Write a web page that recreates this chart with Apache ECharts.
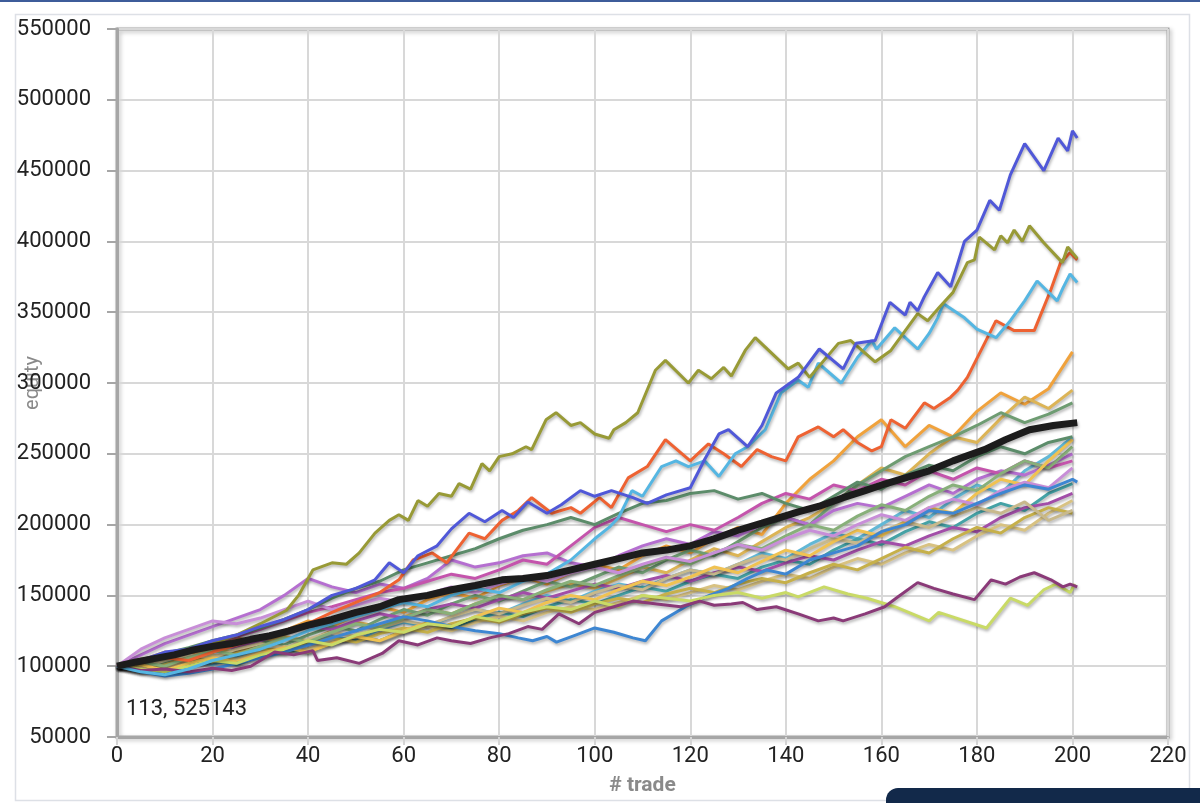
<!DOCTYPE html>
<html>
<head>
<meta charset="utf-8">
<script src="https://cdn.jsdelivr.net/npm/echarts@6/dist/echarts.min.js"></script>
<style>
  html, body { margin: 0; padding: 0; background: #fff; }
  #equity-chart { width: 1200px; height: 803px; }
</style>
</head>
<body>
<div id="equity-chart"></div>
<script>
// equity values are in thousands
var TRADES = [0,5,10,15,20,25,30,35,40,45,50,55,60,65,70,75,80,85,90,95,100,105,110,115,120,125,130,135,140,145,150,155,160,165,170,175,180,185,190,195,200];

var xTicks = [0,20,40,60,80,100,120,140,160,180,200,220];
var yTicks = [50000,100000,150000,200000,250000,300000,350000,400000,450000,500000,550000];

// the bundle, one run per array on the TRADES grid
var runOrange = [100,104,110,108,115,120,117,125,132,128,136,142,138,147,152,148,157,163,158,166,172,168,178,185,180,190,198,193,215,232,245,262,274,255,270,262,280,293,285,296,322];
var runGold   = [100,103,100,106,112,110,116,121,118,125,131,128,135,140,137,144,150,147,153,158,155,162,170,166,175,183,178,188,198,205,215,228,240,235,250,262,258,275,290,282,295];
var runGreen  = [100,98,103,108,105,112,118,115,122,128,125,133,140,136,144,150,146,153,160,156,163,170,166,175,182,178,188,198,205,200,215,228,238,248,255,262,270,279,272,278,286];
var runSky    = [100,96,99,104,101,107,112,110,116,121,118,126,131,128,135,140,137,144,150,146,153,158,155,162,168,165,172,180,176,186,194,190,200,210,205,218,228,222,238,248,262];
var runViolet = [100,108,116,122,128,134,140,150,162,156,152,158,155,162,175,170,173,178,180,173,170,178,185,190,186,195,192,200,205,200,210,215,212,220,228,222,232,238,235,242,250];
var runMagenta= [100,104,108,112,116,121,126,132,138,142,147,152,155,160,165,162,168,175,172,185,198,205,200,195,200,196,205,215,222,218,228,224,232,228,238,232,240,236,245,240,245];
var runTeal   = [100,97,95,100,104,101,107,112,110,116,121,118,125,130,127,133,138,135,142,147,144,150,156,153,160,165,162,170,175,172,182,190,186,195,202,198,208,215,210,222,229];
var runPlum   = [100,103,107,111,115,113,118,124,128,126,132,137,134,140,144,141,147,152,148,153,158,155,160,164,160,166,170,167,173,178,175,182,188,185,192,198,195,205,212,215,222];
var runTan    = [100,102,99,104,108,105,110,114,112,117,121,118,124,128,125,131,135,132,138,142,140,145,150,147,152,157,154,160,165,162,170,176,172,180,186,182,192,200,196,208,217];
var runMustard= [100,97,101,106,103,109,113,110,116,120,117,123,127,124,130,134,131,137,141,138,144,148,145,151,155,152,158,162,159,166,172,168,176,184,180,190,198,194,205,212,208];
var runKhaki  = [100,99,104,108,106,112,116,113,119,124,121,127,132,129,135,140,137,143,148,145,152,157,154,162,168,165,172,178,175,183,190,187,195,202,198,206,212,208,216,203,210];
var runSage   = [100,103,100,106,111,108,114,120,117,124,130,127,134,140,137,144,150,147,154,160,157,164,170,176,172,180,186,183,192,200,196,206,214,210,220,228,224,236,245,240,255];
var runYellow = [100,101,97,102,106,103,109,113,110,116,121,118,125,131,128,135,141,138,145,150,147,154,160,157,163,170,166,174,182,178,188,196,192,202,212,208,222,232,228,245,260];
var runLilac  = [100,112,120,126,132,130,134,140,146,140,143,148,145,151,156,152,158,163,160,166,170,166,172,177,174,180,186,182,190,196,192,200,207,203,212,218,214,224,230,226,240];
var runPine   = [100,104,109,113,118,122,127,133,140,148,155,160,168,173,178,183,190,196,200,205,200,208,215,217,222,224,218,222,215,210,220,230,225,235,242,238,248,255,250,258,262];

// the runs that stand out, each with its own trade positions
var blueX = [0,5,10,15,20,25,30,35,40,45,50,54,57,60,63,67,70,73.7,77,80.6,83,86,90,93,97,100,103.5,108,111,115,120,123,126,128,132,135,138,142.6,147,152,154.7,158.7,161.8,165,166,167.6,169,171.8,174.5,177.4,180,182.7,184.7,187,190,194,197,199,200,201];
var blueY = [100,104,110,112,118,122,128,133,140,150,155,161,173,166,178,185,197,208,202,210,205,216,208,214,224,220,224,219,215,221,226,246,264,267,255,270,293,304,324,310,328,330,357,348,357,351,361,378,368,400,408,429,422,447,469,450,473,464,478,473];

var oliveX = [0,5,10,15,20,25,30,35.5,38,41,45,48,50.7,54,57,59,61,63,65,67.4,70,71.6,74,76.4,78,80,82.7,85.6,86.8,89.8,91.9,95,97,100,103,104,106.5,109,112.7,114.8,119.6,121.7,124.4,127,128.6,131.5,133.6,140.5,142.6,145,151,153.6,158.7,162,167.6,169.7,172,175,178,179.5,180.5,183.7,185,186.4,187.8,189.5,191,194,197.9,199,200,201];
var oliveY = [100,105,108,112,116,122,130,139.5,150,168,173,172,180,194,203,207,203,217,213,222,220,229,225,243,238,248,250,255,253,274,279,270,272,264,261,267,272,279,309,316,300,309,303,311,305,323,332,310,314,304,328,330,315,323,349,344,353,364,385,387,403,394,404,399,408,400,411,399,385,396,392,388];

var cyanX = [0,5,10,15,20,25,30,35,40,45,50,55,60,65,70,75,80,85,90,95,100,103,105,107.8,110,114,117,119.6,123,126,129.4,132,135.7,139,142.6,144.7,146.8,151.6,155,158,159,162.8,167.6,170,171.8,173,177.4,180,184,187,190,192.6,196.8,198,199.5,201];
var cyanY = [100,96,94,98,104,108,112,118,125,130,135,140,145,142,150,155,152,160,165,175,190,198,205,224,220,241,245,241,245,234,250,255,267,293,302,297,314,300,318,330,324,339,324,335,346,356,346,338,332,344,358,372,358,367,377,371];

var redX = [0,5,10,15,20,25,30,35,40,45,50,55,59,62,66,69,73.7,77,80.6,84,86.8,91,95,97,101,103.5,107,111,114.8,120,123.8,127,130.7,134,137,140,142.6,146.8,150,152,155,158,160,162,165,169,171,174.5,176,178,181.6,184,187.8,192,195.5,197.5,199.5,201];
var redY = [100,103,106,104,110,115,120,125,130,138,145,152,161,175,180,173,194,190,203,210,219,208,212,208,219,212,233,241,260,245,257,250,241,253,248,245,262,269,262,267,258,252,255,274,268,286,282,290,295,304,328,344,337,337,366,385,392,387];

var maroonX = [0,5,10,15,20,24,28,33,37,41,42,46,50.7,55.5,59,63,67,70,74,78,82,86,89,92.5,96.7,100,104,108,113,118,122,125,128.6,131,134,138,142.6,146.8,150,152,156.6,160.7,163.5,167.6,171,175,179.5,183,186,189,192,195.5,198,199.5,201];
var maroonY = [100,97,98,96,98.6,97,100,110,108,111,104,106,102,109,118,115,120,118,116,120,123,128,126,137,130,138,142,146,144,142,146,143,144,145,140,142,137,132,134,132,137,142,149,159,155,151,147,161,158,163,166,161,156,158,156];

var lowBlueX = [0,5,10,15,20,25,30,35,40,45,50,55,60,65,70,75,80,84,87,90,92,96,100,104,108,110.6,114,119,124,128,132,136,140,145,150,155,160,165,170,175,180,185,190,195,200,201];
var lowBlueY = [100,96,93,95,98,102,106,110,115,120,125,130,135,132,128,125,123,120,118,121,117,122,127,124,120,118,132,142,150,155,162,168,165,175,180,185,195,200,210,208,215,222,228,225,232,230];

var limeX = [0,5,10,15,20,25,30,35,40,45,50,55,60,65,70,75,80,85,90,95,100,105,110,115,120,125,130,135,140,142.6,148,153,157,162.8,170,172,182,187,190.6,194,196.5,199.5,200.5];
var limeY = [100,98,96,100,104,102,108,112,118,115,122,126,124,130,128,135,132,138,142,140,146,142,150,148,146,150,152,148,152,149,156,151,148,142,132,138,127,148,143,154,158,152,158];

// average of all runs
var meanX = [0,4,8,12,16,20,24,28,32,36,40,45,50,55,59,65,70,75,80.6,85,90,95,100,105,110,115,120,125,130,135,142.6,147,152,156.6,161,165,170,175,181.6,186,191,196,201];
var meanY = [100,103,105.5,108,111.5,114,116,119,121.5,125,129,133,138,142,147,150,154,157,161,162,164,168,172,176,180,182,185,190,196,201,209,213,219,224,229,233,238,245,253,260,267,270,272];

var myChart = echarts.init(document.getElementById('equity-chart'));

function run(xs, ys, color, width) {
    return {
        type: 'line',
        data: xs.map(function (x, i) { return [x, ys[i] * 1000]; }),
        showSymbol: false,
        smooth: false,
        silent: true,
        lineStyle: {
            color: color,
            width: width || 3,
            shadowColor: 'rgba(0,0,0,0.3)',
            shadowBlur: 3,
            shadowOffsetX: 1,
            shadowOffsetY: 2
        }
    };
}

var series = [
    run(TRADES, runOrange, '#f0a23c'),
    run(TRADES, runGold, '#dcb456'),
    run(TRADES, runGreen, '#6e9c72'),
    run(TRADES, runSky, '#62b8d6'),
    run(TRADES, runViolet, '#b56fd0'),
    run(TRADES, runMagenta, '#c454ac'),
    run(TRADES, runTeal, '#45a2a6'),
    run(TRADES, runPlum, '#a24ea8'),
    run(TRADES, runTan, '#d8c282'),
    run(TRADES, runMustard, '#c6b04a'),
    run(TRADES, runKhaki, '#c8b98c'),
    run(TRADES, runSage, '#88b07a'),
    run(TRADES, runYellow, '#f0c252'),
    run(TRADES, runLilac, '#c88ed8'),
    run(TRADES, runPine, '#5c8c6a'),
    run(lowBlueX, lowBlueY, '#3d86d2'),
    run(limeX, limeY, '#c9da66'),
    run(maroonX, maroonY, '#8a3a78'),
    run(redX, redY, '#ee6232'),
    run(cyanX, cyanY, '#55b6e2'),
    run(oliveX, oliveY, '#989a36'),
    run(blueX, blueY, '#5058d8'),
    run(meanX, meanY, '#1c1c1c', 7)
];

option = {
    animation: false,
    backgroundColor: '#ffffff',
    grid: {
        left: 117, right: 32, top: 29, bottom: 66,
        outerBoundsMode: 'none',
        containLabel: false,
        show: true,
        borderColor: '#a6a6a6',
        borderWidth: 3,
        shadowColor: 'rgba(0,0,0,0.25)',
        shadowBlur: 4,
        shadowOffsetX: 2,
        shadowOffsetY: 2
    },
    xAxis: {
        type: 'value',
        min: 0, max: 220, interval: 20,
        name: '# trade',
        nameLocation: 'middle',
        nameGap: 38,
        nameMoveOverlap: false,
        nameTextStyle: { color: '#8a8a8a', fontSize: 21, fontWeight: 'bold', fontFamily: 'Roboto' },
        axisLine: { show: true, lineStyle: { color: '#a6a6a6', width: 3 } },
        axisTick: { show: true, length: 8, lineStyle: { color: '#d4d4d4', width: 2 } },
        axisLabel: {
            color: '#222', fontSize: 22, fontFamily: 'Roboto', margin: 8,
            formatter: function (v) { return xTicks.indexOf(v) >= 0 ? String(v) : ''; }
        },
        splitLine: { show: true, lineStyle: { color: '#d8d8d8', width: 2 } }
    },
    yAxis: {
        type: 'value',
        min: 50000, max: 550000, interval: 50000,
        name: 'equity',
        nameLocation: 'middle',
        nameGap: 74,
        nameRotate: 90,
        nameMoveOverlap: false,
        nameTextStyle: { color: '#8a8a8a', fontSize: 20, fontFamily: 'Roboto' },
        axisLine: { show: true, lineStyle: { color: '#a6a6a6', width: 3 } },
        axisTick: { show: true, length: 10, lineStyle: { color: '#a6a6a6', width: 2 } },
        axisLabel: {
            color: '#222', fontSize: 22, fontFamily: 'Roboto', margin: 26,
            formatter: function (v) { return yTicks.indexOf(v) >= 0 ? String(v) : ''; }
        },
        splitLine: { show: true, lineStyle: { color: '#d8d8d8', width: 2 } }
    },
    graphic: [
        { type: 'rect', left: 0, top: 0, shape: { width: 1200, height: 2 }, style: { fill: '#3d5c9a' }, silent: true },
        { type: 'rect', left: 13, top: 12, shape: { width: 1174, height: 786 }, style: { fill: 'none', stroke: '#dde0e6', lineWidth: 1.5 }, silent: true, z: -1 },
        { type: 'text', left: 126, top: 698, style: { text: '113, 525143', fill: '#222', font: '22px Roboto' }, silent: true },
        { type: 'rect', left: 886, top: 788, shape: { width: 330, height: 40, r: 12 }, style: { fill: '#12294a' }, silent: true }
    ],
    series: series
};

myChart.setOption(option);
</script>
</body>
</html>
